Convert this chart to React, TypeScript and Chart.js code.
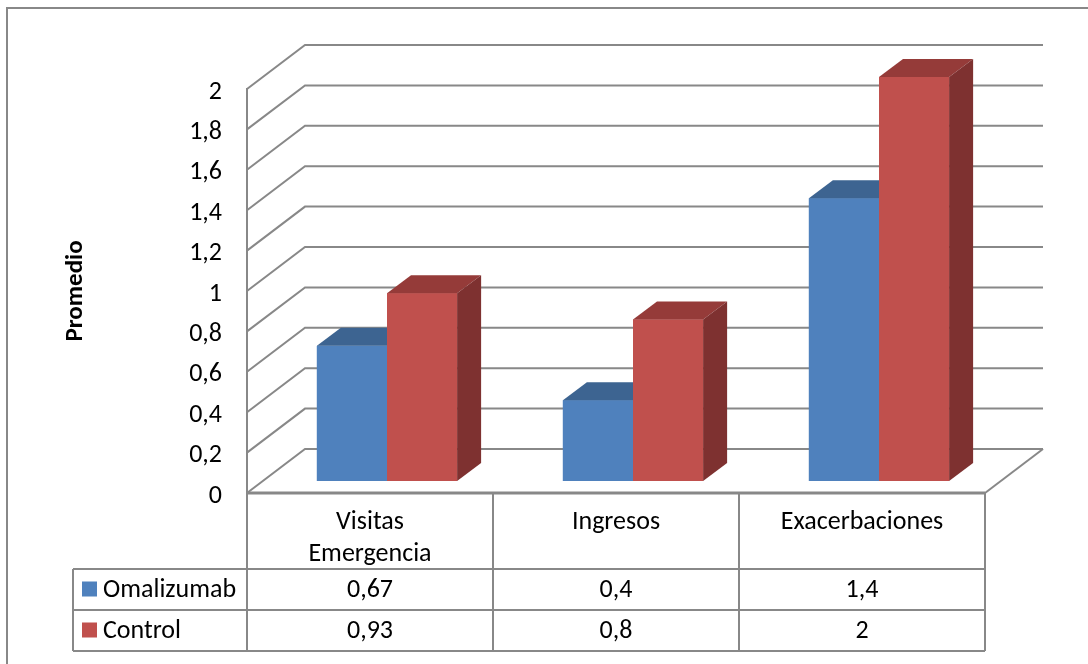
import { useEffect, useRef } from 'react';
import { Chart, registerables } from 'chart.js';

Chart.register(...registerables);

// Categories (multi-line header labels), series and axis ticks
const categories: string[][] = [['Visitas', 'Emergencia'], ['Ingresos'], ['Exacerbaciones']];
const seriesNames = ['Omalizumab', 'Control'];
const omalizumab = [0.67, 0.4, 1.4];
const control = [0.93, 0.8, 2];
const yTickValues = [0, 0.2, 0.4, 0.6, 0.8, 1, 1.2, 1.4, 1.6, 1.8, 2];

const FONT = 'Carlito, Lato, "Noto Sans", sans-serif';
const FONT_SIZE = 26;
const LINE = '#888888';
const FRONT = ['#4F81BD', '#C0504D'];
const TOP = ['#3D6491', '#953B39'];
const SIDE = ['#385D8A', '#7E3130'];

// depth of the walls/floor, position of the bar row inside that depth, and bar thickness
const WALL_DX = 58;
const WALL_DY = -44;
const BAR_SHIFT_X = 17;
const BAR_SHIFT_Y = -12;
const BAR_DX = 24;
const BAR_DY = -18;

// data table geometry
const HEADER_H = 76;
const ROW_H = 41;
const LEGEND_LEFT = 73;

const fmt = (v: number) => String(Number(v.toFixed(2))).replace('.', ',');

const depthPlugin = {
  id: 'depth3d',
  beforeDraw(chart: any) {
    const { ctx } = chart;
    ctx.save();
    ctx.fillStyle = '#ffffff';
    ctx.fillRect(0, 0, chart.width, chart.height);
    ctx.strokeStyle = LINE;
    ctx.lineWidth = 2;
    ctx.strokeRect(7, 8, chart.width + 20, chart.height + 20);
    ctx.restore();
  },
  beforeDatasetsDraw(chart: any) {
    const { ctx, chartArea } = chart;
    const y = chart.scales.y;
    const { left, right } = chartArea;
    // side wall, back wall and floor
    ctx.save();
    ctx.strokeStyle = LINE;
    ctx.lineWidth = 2;
    y.ticks.forEach((t: any) => {
      const py = y.getPixelForValue(t.value);
      ctx.beginPath();
      ctx.moveTo(left, py);
      ctx.lineTo(left + WALL_DX, py + WALL_DY);
      ctx.lineTo(right + WALL_DX, py + WALL_DY);
      ctx.stroke();
    });
    const p0 = y.getPixelForValue(0);
    ctx.beginPath();
    ctx.moveTo(right, p0);
    ctx.lineTo(right + WALL_DX, p0 + WALL_DY);
    ctx.stroke();
    ctx.restore();
    // bars sit part-way into the floor depth
    ctx.save();
    ctx.translate(BAR_SHIFT_X, BAR_SHIFT_Y);
  },
  afterDatasetsDraw(chart: any) {
    const { ctx } = chart;
    // redraw in series order so each bar's top/side sits behind the next bar's front face
    chart.data.datasets.forEach((_ds: any, i: number) => {
      const meta = chart.getDatasetMeta(i);
      meta.data.forEach((bar: any) => {
        bar.draw(ctx);
        const { x, y, base, width } = bar.getProps(['x', 'y', 'base', 'width'], true);
        const l = x - width / 2;
        const r = x + width / 2;
        ctx.fillStyle = TOP[i];
        ctx.beginPath();
        ctx.moveTo(l, y);
        ctx.lineTo(l + BAR_DX, y + BAR_DY);
        ctx.lineTo(r + BAR_DX, y + BAR_DY);
        ctx.lineTo(r, y);
        ctx.closePath();
        ctx.fill();
        ctx.fillStyle = SIDE[i];
        ctx.beginPath();
        ctx.moveTo(r, y);
        ctx.lineTo(r + BAR_DX, y + BAR_DY);
        ctx.lineTo(r + BAR_DX, base + BAR_DY);
        ctx.lineTo(r, base);
        ctx.closePath();
        ctx.fill();
      });
    });
    ctx.restore();
  },
};

const tablePlugin = {
  id: 'dataTable',
  afterDraw(chart: any) {
    const { ctx } = chart;
    const xs = chart.scales.x;
    const floorY = chart.scales.y.getPixelForValue(0);
    const half = (xs.getPixelForValue(1) - xs.getPixelForValue(0)) / 2;
    const colLeft = xs.getPixelForValue(0) - half;
    const colRight = xs.getPixelForValue(categories.length - 1) + half;
    const row1 = floorY + HEADER_H;
    const row2 = row1 + ROW_H;
    const bottom = row2 + ROW_H;

    ctx.save();
    ctx.strokeStyle = LINE;
    ctx.lineWidth = 2;
    [row1, row2, bottom].forEach((yy) => {
      ctx.beginPath();
      ctx.moveTo(LEGEND_LEFT, yy);
      ctx.lineTo(colRight, yy);
      ctx.stroke();
    });
    ctx.beginPath();
    ctx.moveTo(LEGEND_LEFT, row1);
    ctx.lineTo(LEGEND_LEFT, bottom);
    ctx.stroke();
    for (let c = 0; c <= categories.length; c++) {
      const xx = colLeft + c * half * 2;
      ctx.beginPath();
      ctx.moveTo(xx, floorY);
      ctx.lineTo(xx, bottom);
      ctx.stroke();
    }
    // floor front edge
    ctx.lineWidth = 3;
    ctx.beginPath();
    ctx.moveTo(colLeft, floorY);
    ctx.lineTo(colRight, floorY);
    ctx.stroke();

    ctx.fillStyle = '#000000';
    ctx.font = `${FONT_SIZE}px ${FONT}`;
    ctx.textAlign = 'center';
    ctx.textBaseline = 'middle';
    categories.forEach((lines, c) => {
      const cx = xs.getPixelForValue(c);
      lines.forEach((txt, k) => ctx.fillText(txt, cx, floorY + 29 + k * 32));
    });
    const rows = [omalizumab, control];
    const rowMid = [row1 + ROW_H / 2, row2 + ROW_H / 2];
    rows.forEach((vals, r) => {
      vals.forEach((v, c) => ctx.fillText(fmt(v), xs.getPixelForValue(c), rowMid[r] + 1));
      ctx.fillStyle = FRONT[r];
      ctx.fillRect(82, rowMid[r] - 8, 15, 15);
      ctx.fillStyle = '#000000';
      ctx.textAlign = 'left';
      ctx.fillText(seriesNames[r], 103, rowMid[r] + 1);
      ctx.textAlign = 'center';
    });
    ctx.restore();
  },
};

export default function App() {
  const canvasRef = useRef<HTMLCanvasElement | null>(null);

  useEffect(() => {
    if (!canvasRef.current) return;
    const chart = new Chart(canvasRef.current, {
      type: 'bar',
      data: {
        labels: categories.map((c) => c.join(' ')),
        datasets: [
          { label: seriesNames[0], data: omalizumab, backgroundColor: FRONT[0], clip: false } as any,
          { label: seriesNames[1], data: control, backgroundColor: FRONT[1], clip: false } as any,
        ],
      },
      options: {
        animation: false,
        responsive: false,
        devicePixelRatio: 1,
        layout: { padding: { left: 0, right: 103, top: 89, bottom: 171 } },
        datasets: { bar: { barPercentage: 1, categoryPercentage: 0.57, borderWidth: 0 } },
        plugins: { legend: { display: false }, tooltip: { enabled: false } },
        scales: {
          x: { display: false, offset: true },
          y: {
            min: 0,
            max: 2,
            afterBuildTicks: (scale: any) => {
              scale.ticks = yTickValues.map((v) => ({ value: v }));
            },
            afterFit: (scale: any) => {
              scale.width = 247;
            },
            grid: { display: false, drawTicks: false },
            border: { display: true, color: LINE, width: 2 },
            ticks: {
              padding: 25,
              labelOffset: 3,
              color: '#000000',
              font: { family: FONT, size: FONT_SIZE },
              callback: (v: any) => fmt(Number(v)),
            },
            title: {
              display: true,
              text: 'Promedio',
              color: '#000000',
              font: { family: FONT, size: 25, weight: 'bold' },
              padding: { top: 61, bottom: 0 },
            },
          },
        },
      },
      plugins: [depthPlugin, tablePlugin],
    });
    return () => chart.destroy();
  }, []);

  return (
    <div style={{ position: 'absolute', left: 0, top: 0, width: 1088, height: 664 }}>
      <canvas ref={canvasRef} width={1088} height={664} />
    </div>
  );
}
